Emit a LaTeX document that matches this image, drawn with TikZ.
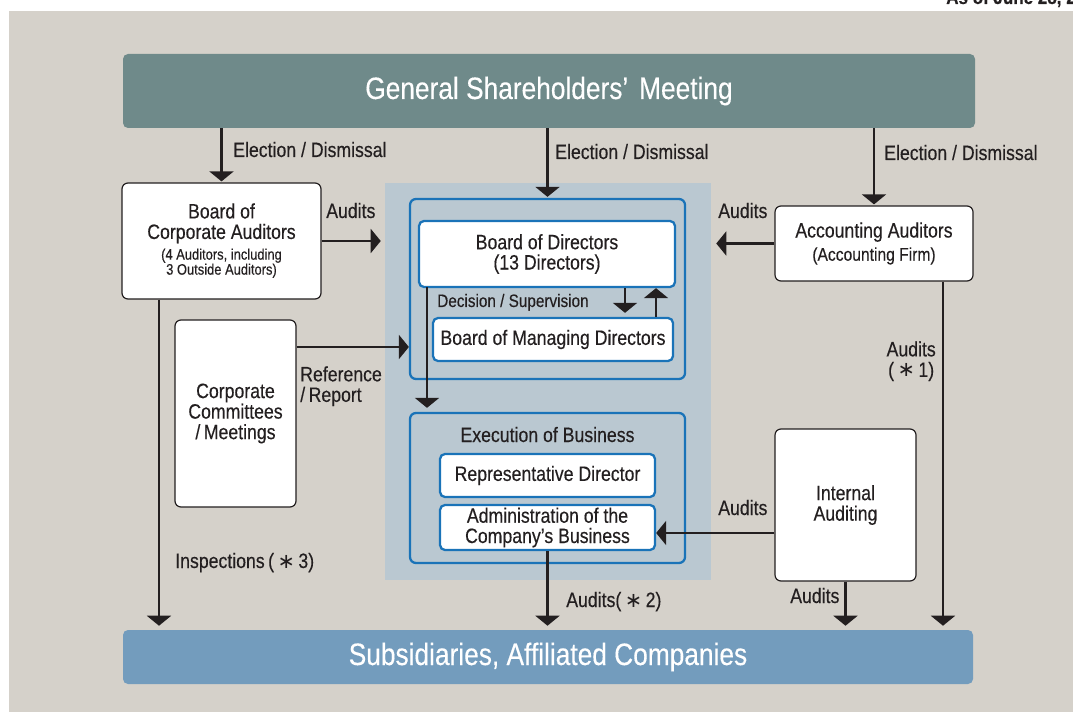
\documentclass[tikz,border=0pt]{standalone}
\usepackage{fontspec}
\setmainfont{Liberation Sans}[FakeStretch=0.85,FakeBold=0.3]
\newfontfamily\symfont{DejaVu Sans}
\usetikzlibrary{arrows.meta}
\definecolor{bgc}{HTML}{D5D1CA}
\definecolor{gsmc}{HTML}{6F8A8A}
\definecolor{subc}{HTML}{739CBD}
\definecolor{panelc}{HTML}{BAC8D1}
\definecolor{bluec}{HTML}{1A73B8}
\definecolor{inkc}{HTML}{231F20}
\newcommand\pxu{*0.75pt}
\newcommand\stari{{\symfont ∗}}
\tikzset{
 bar/.style={rounded corners=5\pxu, text=white, font=\fontsize{23.2}{25}\selectfont, inner sep=0pt},
 wbox/.style={draw=inkc, line width=0.9pt, fill=white, rounded corners=6\pxu, align=center, text=inkc, font=\fontsize{15.6}{15.4}\selectfont, inner sep=0pt},
 blueframe/.style={draw=bluec, line width=1.7pt, rounded corners=6\pxu, inner sep=0pt},
 bbox/.style={draw=bluec, line width=1.7pt, fill=white, rounded corners=5\pxu, align=center, text=inkc, font=\fontsize{15.6}{15.2}\selectfont, inner sep=0pt},
 conn/.style={draw=inkc, line width=1.6pt, -{Triangle[width=18pt,length=7.5pt]}},
 lbl/.style={text=inkc, font=\fontsize{15.6}{15.4}\selectfont, inner sep=0pt},
}
\begin{document}
\begin{tikzpicture}[x=0.75pt,y=-0.75pt]
\useasboundingbox (0,0) rectangle (1073,712);
\fill[bgc] (9,11) rectangle (1073,712);
\node[lbl, font=\bfseries\fontsize{15}{15}\selectfont, anchor=base west] (asof) at (946,4) {As of June 28, 20};
% bars
\node[bar, fill=gsmc, minimum width=852\pxu, minimum height=74\pxu] (gsm) at (549,91) {General Shareholders’\hspace{0.35em}Meeting};
\node[bar, fill=subc, minimum width=850\pxu, minimum height=54\pxu] (sub) at (548,657) {Subsidiaries, Affiliated Companies};
% central panel
\node[fill=panelc, minimum width=326\pxu, minimum height=397\pxu, inner sep=0pt] (panel) at (548,381.5) {};
\node[blueframe, minimum width=275\pxu, minimum height=180\pxu] (bodf) at (547.5,289) {};
\node[bbox, minimum width=256\pxu, minimum height=66\pxu] (bod) at (547,254) {Board of Directors\\(13 Directors)};
\node[bbox, minimum width=240\pxu, minimum height=43\pxu] (bmd) at (553,339.5) {Board of Managing Directors};
\node[lbl, anchor=base west, font=\fontsize{13.5}{14}\selectfont] (ds) at (437,307) {Decision / Supervision};
\node[blueframe, minimum width=275\pxu, minimum height=150\pxu] (exf) at (547.5,488) {};
\node[lbl, anchor=base] (exl) at (547.5,442) {Execution of Business};
\node[bbox, minimum width=215\pxu, minimum height=43\pxu] (rep) at (547.5,475.5) {Representative Director};
\node[bbox, minimum width=215\pxu, minimum height=45\pxu] (adm) at (547.5,527.5) {Administration of the\\Company’s Business};
% side boxes
\node[wbox, minimum width=199\pxu, minimum height=116\pxu] (bca) at (221.5,241) {Board of\\Corporate Auditors\\[3pt]{\fontsize{11.4}{10}\selectfont\begin{tabular}{@{}c@{}}(4 Auditors, including\\3 Outside Auditors)\end{tabular}}};
\node[wbox, minimum width=121\pxu, minimum height=187\pxu] (ccm) at (235.5,413.5) {Corporate\\Committees\\/\,Meetings};
\node[wbox, minimum width=198\pxu, minimum height=75\pxu] (acc) at (874,243.5) {Accounting Auditors\\[2pt]{\fontsize{13.8}{14}\selectfont (Accounting Firm)}};
\node[wbox, minimum width=141\pxu, minimum height=152\pxu] (ia) at (845.5,505) {Internal\\Auditing};
% helper coordinates
\coordinate (x625) at (625,0);
\coordinate (x656) at (656,0);
\coordinate (x159) at (159,0);
\coordinate (x943) at (943,0);
\coordinate (y533) at (0,533);
\coordinate (y347) at (0,347);
\coordinate (bodx) at (427,287);
% connectors
\draw[conn, shorten >=1\pxu] (gsm.south -| bca.north) -- (bca.north);
\draw[conn, shorten >=1\pxu] (gsm.south -| bodf.north) -- (bodf.north);
\draw[conn, shorten >=1\pxu] (gsm.south -| acc.north) -- (acc.north);
\draw[conn, shorten >=4\pxu] (bca.east) -- (bca.east -| panel.west);
\draw[conn, shorten >=5\pxu] (acc.west) -- (acc.west -| panel.east);
\draw[conn] (ccm.east |- y347) -- (bodf.west |- y347);
\draw[conn, shorten >=4\pxu] (bodx) -- (bodx |- exf.north);
\draw[conn, shorten >=4\pxu] (bod.south -| x625) -- (bmd.north -| x625);
\draw[conn] (bmd.north -| x656) -- (bod.south -| x656);
\draw[conn, shorten >=4\pxu] (bca.south -| x159) -- (sub.north -| x159);
\draw[conn, shorten >=4\pxu] (adm.south) -- (sub.north -| adm.south);
\draw[conn] (ia.west |- y533) -- (adm.east |- y533);
\draw[conn, shorten >=4\pxu] (ia.south) -- (sub.north -| ia.south);
\draw[conn, shorten >=4\pxu] (acc.south -| x943) -- (sub.north -| x943);
% labels
\node[lbl, anchor=base west] (l1) at (233,157) {Election / Dismissal};
\node[lbl, anchor=base west] (l2) at (555,159) {Election / Dismissal};
\node[lbl, anchor=base west] (l3) at (884,160) {Election / Dismissal};
\node[lbl, anchor=base west] (l4) at (326,218) {Audits};
\node[lbl, anchor=base west] (l5) at (718,218) {Audits};
\node[lbl, anchor=north west, align=left] (l6) at (300,366) {Reference\\/\,Report};
\node[lbl, anchor=base west] (l7) at (175,568) {Inspections\,(\,\stari\,3)};
\node[lbl, anchor=base west] (l8) at (566,607) {Audits(\,\stari\,2)};
\node[lbl, anchor=base west] (l9) at (718,515) {Audits};
\node[lbl, anchor=base west] (l10) at (790,603) {Audits};
\node[lbl, anchor=north east, align=center] (l11) at (936,341) {Audits\\(\,\stari\,1)};
\end{tikzpicture}
\end{document}
